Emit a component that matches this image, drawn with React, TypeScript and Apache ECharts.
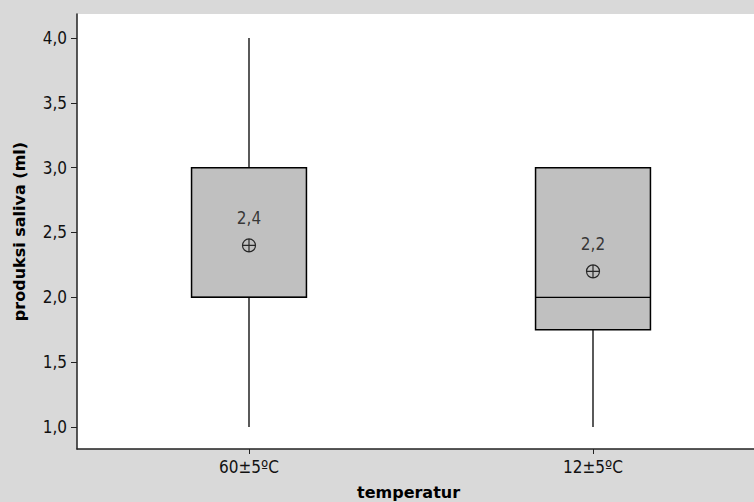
import React, { useEffect, useRef } from "react";
import * as echarts from "echarts";

const categories = ["60±5ºC", "12±5ºC"];
const whiskerLow = [1, 1];
const q1 = [2, 1.75];
const medians = [2, 2];
const q3 = [3, 3];
const whiskerHigh = [4, 3];
const means = [2.4, 2.2];
const meanLabels = ["2,4", "2,2"];
const yTicks = [1, 1.5, 2, 2.5, 3, 3.5, 4];

const FONT = '"DejaVu Sans Condensed", "DejaVu Sans", sans-serif';
const BOLD = '"DejaVu Sans", sans-serif';

export default function App() {
  const ref = useRef<HTMLDivElement>(null);
  useEffect(() => {
    if (!ref.current) return;
    const chart = echarts.init(ref.current, undefined, { renderer: "svg" });
    const boxData = categories.map((_, i) => [i, whiskerLow[i], q1[i], medians[i], q3[i], whiskerHigh[i]]);
    const meanData = categories.map((_, i) => [i, means[i]]);
    const plusCircle =
      "path://M0,-6A6,6 0 1,1 0,6A6,6 0 1,1 0,-6Z M-6,0L6,0 M0,-6L0,6";
    chart.setOption({
      animation: false,
      backgroundColor: "#d9d9d9",
      grid: {
        left: 77,
        top: 14,
        width: 688,
        height: 435,
        show: true,
        backgroundColor: "#ffffff",
        borderWidth: 0,
        containLabel: false,
        outerBoundsMode: "none",
      },
      xAxis: {
        type: "category",
        data: categories,
        boundaryGap: true,
        axisLine: { show: true, lineStyle: { color: "#222", width: 1.5 } },
        axisTick: { show: true, alignWithLabel: true, length: 5, lineStyle: { color: "#222" } },
        axisLabel: { color: "#111", fontFamily: FONT, fontSize: 17, margin: 9 },
        splitLine: { show: false },
      },
      yAxis: {
        type: "value",
        min: 0.83,
        max: 4.185,
        name: "produksi saliva (ml)",
        nameLocation: "middle",
        nameGap: 50,
        nameTextStyle: { fontFamily: BOLD, fontWeight: "bold", fontSize: 16, color: "#000" },
        axisLine: { show: true, lineStyle: { color: "#222", width: 1.5 } },
        axisTick: { show: true, length: 6, customValues: yTicks, lineStyle: { color: "#222" } },
        axisLabel: {
          customValues: yTicks,
          color: "#111",
          fontFamily: FONT,
          fontSize: 17,
          margin: 10,
          formatter: (v: number) => v.toFixed(1).replace(".", ","),
        },
        splitLine: { show: false },
      },
      graphic: [
        {
          type: "text",
          left: 407 - 50,
          top: 484,
          style: {
            text: "temperatur",
            font: `bold 16px "DejaVu Sans"`,
            fill: "#000",
          },
        },
      ],
      series: [
        {
          type: "custom",
          data: boxData,
          renderItem: (params: any, api: any) => {
            const cat = api.value(0);
            const band = api.size([1, 0])[0];
            const w = band * 0.334;
            const pLow = api.coord([cat, api.value(1)]);
            const pQ1 = api.coord([cat, api.value(2)]);
            const pMed = api.coord([cat, api.value(3)]);
            const pQ3 = api.coord([cat, api.value(4)]);
            const pHigh = api.coord([cat, api.value(5)]);
            const x = pQ1[0];
            const stroke = { stroke: "#000", lineWidth: 1.3 };
            const children: any[] = [
              {
                type: "rect",
                shape: { x: x - w / 2, y: pQ3[1], width: w, height: pQ1[1] - pQ3[1] },
                style: { fill: "#c0c0c0", stroke: "#000", lineWidth: 1.5 },
              },
              {
                type: "line",
                shape: { x1: x - w / 2, y1: pMed[1], x2: x + w / 2, y2: pMed[1] },
                style: stroke,
              },
            ];
            if (pHigh[1] < pQ3[1]) {
              children.push({
                type: "line",
                shape: { x1: x, y1: pQ3[1], x2: x, y2: pHigh[1] },
                style: stroke,
              });
            }
            if (pLow[1] > pQ1[1]) {
              children.push({
                type: "line",
                shape: { x1: x, y1: pQ1[1], x2: x, y2: pLow[1] },
                style: stroke,
              });
            }
            return { type: "group", children };
          },
          z: 2,
        },
        {
          type: "scatter",
          data: meanData,
          symbol: plusCircle,
          symbolSize: 13,
          itemStyle: { color: "rgba(0,0,0,0)", borderColor: "#000", borderWidth: 1.2 },
          label: {
            show: true,
            position: "top",
            distance: 12,
            fontFamily: FONT,
            fontSize: 17,
            color: "#111",
            formatter: (p: any) => meanLabels[p.dataIndex],
          },
          z: 5,
        },
      ],
    });
    return () => chart.dispose();
  }, []);
  return (
    <div
      ref={ref}
      style={{ position: "fixed", left: 0, top: 0, width: 754, height: 502 }}
    />
  );
}
